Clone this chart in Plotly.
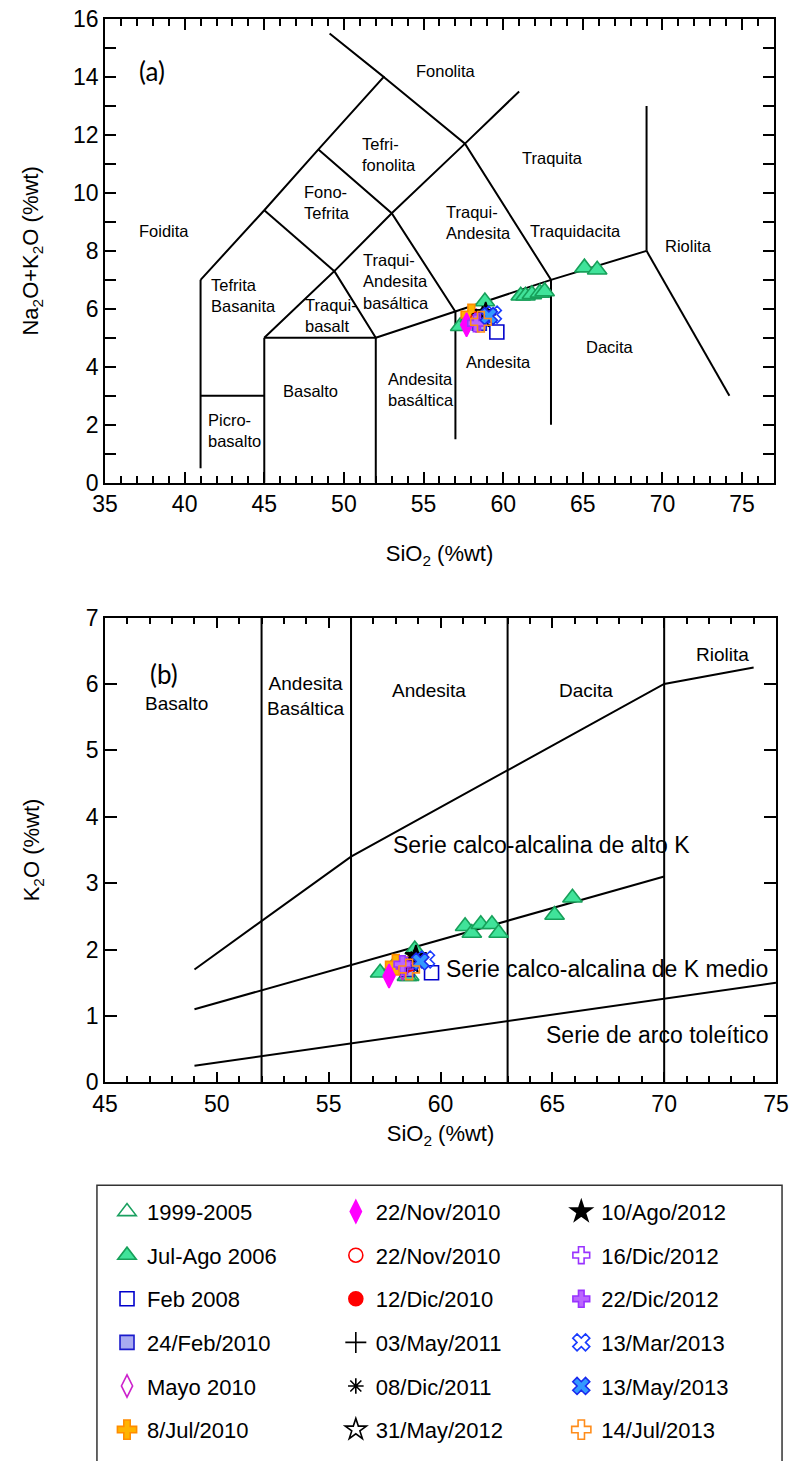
import plotly.graph_objects as go

# ---------------- data ----------------
series_names = ["1999-2005", "Jul-Ago 2006", "Feb 2008", "24/Feb/2010", "Mayo 2010", "8/Jul/2010",
                "22/Nov/2010", "22/Nov/2010", "12/Dic/2010", "03/May/2011", "08/Dic/2011", "31/May/2012",
                "10/Ago/2012", "16/Dic/2012", "22/Dic/2012", "13/Mar/2013", "13/May/2013", "14/Jul/2013"]

sio2_1999 = [58.2, 58.6]
tas_1999 = [5.55, 5.70]
k2o_1999 = [1.70, 1.60]

sio2_2006 = [57.3, 57.9, 58.5, 58.85, 61.1, 61.4, 61.8, 62.3, 62.6, 65.1, 65.9]
tas_2006 = [5.40, 5.70, 5.60, 6.25, 6.45, 6.45, 6.50, 6.55, 6.60, 7.42, 7.35]
k2o_2006 = [1.65, 1.75, 1.60, 2.00, 2.35, 2.25, 2.38, 2.38, 2.25, 2.52, 2.78]

sio2_feb2008 = [59.6]; tas_feb2008 = [5.20]; k2o_feb2008 = [1.65]
sio2_feb2010 = [58.5]; tas_feb2010 = [5.50]; k2o_feb2010 = [1.70]
sio2_may2010 = [58.3]; tas_may2010 = [5.60]; k2o_may2010 = [1.72]
sio2_jul2010 = [58.0]; tas_jul2010 = [5.80]; k2o_jul2010 = [1.77]
sio2_nov2010a = [57.7]; tas_nov2010a = [5.45]; k2o_nov2010a = [1.60]
sio2_nov2010b = [58.4]; tas_nov2010b = [5.65]; k2o_nov2010b = [1.75]
sio2_dic2010 = [58.6]; tas_dic2010 = [5.70]; k2o_dic2010 = [1.78]
sio2_may2011 = [58.9]; tas_may2011 = [5.80]; k2o_may2011 = [1.85]
sio2_dic2011 = [58.8]; tas_dic2011 = [5.75]; k2o_dic2011 = [1.88]
sio2_may2012 = [58.7]; tas_may2012 = [5.70]; k2o_may2012 = [1.80]
sio2_ago2012 = [58.9]; tas_ago2012 = [5.85]; k2o_ago2012 = [1.90]
sio2_dic2012a = [58.4]; tas_dic2012a = [5.55]; k2o_dic2012a = [1.75]
sio2_dic2012b = [58.3]; tas_dic2012b = [5.50]; k2o_dic2012b = [1.78]
sio2_mar2013 = [59.35]; tas_mar2013 = [5.80]; k2o_mar2013 = [1.85]
sio2_may2013 = [59.1]; tas_may2013 = [5.75]; k2o_may2013 = [1.82]
sio2_jul2013 = [58.6]; tas_jul2013 = [5.55]; k2o_jul2013 = [1.70]

sio2_all = [sio2_1999, sio2_2006, sio2_feb2008, sio2_feb2010, sio2_may2010, sio2_jul2010,
            sio2_nov2010a, sio2_nov2010b, sio2_dic2010, sio2_may2011, sio2_dic2011, sio2_may2012,
            sio2_ago2012, sio2_dic2012a, sio2_dic2012b, sio2_mar2013, sio2_may2013, sio2_jul2013]
tas_all = [tas_1999, tas_2006, tas_feb2008, tas_feb2010, tas_may2010, tas_jul2010,
           tas_nov2010a, tas_nov2010b, tas_dic2010, tas_may2011, tas_dic2011, tas_may2012,
           tas_ago2012, tas_dic2012a, tas_dic2012b, tas_mar2013, tas_may2013, tas_jul2013]
k2o_all = [k2o_1999, k2o_2006, k2o_feb2008, k2o_feb2010, k2o_may2010, k2o_jul2010,
           k2o_nov2010a, k2o_nov2010b, k2o_dic2010, k2o_may2011, k2o_dic2011, k2o_may2012,
           k2o_ago2012, k2o_dic2012a, k2o_dic2012b, k2o_mar2013, k2o_may2013, k2o_jul2013]

# TAS diagram boundaries (SiO2, Na2O+K2O)
tas_seg_x = [[41, 41], [41, 45], [45, 45], [45, 52], [52, 52], [52, 57, 63, 69], [57, 57], [63, 63],
             [69, 74.2], [69, 69], [41, 45, 48.4, 52.5, 49.1], [45, 49.4, 52], [49.4, 53, 57.6, 61],
             [45, 49.4], [48.4, 53, 57], [52.5, 57.6, 63]]
tas_seg_y = [[0.5, 7], [3, 3], [0, 5], [5, 5], [0, 5], [5, 5.9, 7, 8], [1.5, 5.9], [2, 7],
             [8, 3], [8, 13], [7, 9.4, 11.5, 14, 15.5], [5, 7.3, 5], [7.3, 9.3, 11.7, 13.5],
             [9.4, 7.3], [11.5, 9.3, 5.9], [14, 11.7, 7]]

# K2O vs SiO2 boundaries
k_seg_x = [[49, 56, 70, 74], [49, 70], [49, 75], [52, 52], [56, 56], [63, 63], [70, 70]]
k_seg_y = [[1.7, 3.4, 6.0, 6.25], [1.1, 3.1], [0.25, 1.5], [0, 7], [0, 7], [0, 7], [0, 7]]

tas_labels = ["(a)", "Foidita", "Tefrita<br>Basanita", "Picro-<br>basalto", "Basalto", "Fono-<br>Tefrita",
              "Tefri-<br>fonolita", "Traqui-<br>basalt", "Traqui-<br>Andesita<br>basáltica",
              "Andesita<br>basáltica", "Fonolita", "Traquita", "Traqui-<br>Andesita", "Traquidacita",
              "Riolita", "Andesita", "Dacita"]
k_labels = ["(b)", "Basalto", "Andesita<br>Basáltica", "Andesita", "Dacita", "Riolita",
            "Serie calco-alcalina de alto K", "Serie calco-alcalina de K medio", "Serie de arco toleítico"]

# ---------------- styles ----------------
FONT = "Liberation Sans, Arial, sans-serif"
symbols = ["triangle-up-open", "triangle-up", "square-open", "square", "diamond-tall-open", "cross",
           "diamond-tall", "circle-open", "circle", "cross-thin-open", "asterisk-open", "star-open",
           "star", "cross-open", "cross", "x-open", "x", "cross-open"]
fills = ["#1aa060", "#40e39a", "#0000cc", "#a8aaf0", "#cc22cc", "#ffb300",
         "#ff00ff", "#ff0000", "#ff0000", "#000000", "#000000", "#000000",
         "#000000", "#9933ff", "#bb66ff", "#1a3cff", "#3399ff", "#ff8c1a"]
lines = ["#1aa060", "#17a05a", "#0000cc", "#1a1acc", "#cc22cc", "#ff8c00",
         "#ff00ff", "#ff0000", "#ff0000", "#000000", "#000000", "#000000",
         "#000000", "#9933ff", "#9933ff", "#1a3cff", "#1a2aee", "#ff8c1a"]
sizes = [17, 17, 14, 14, 17, 17, 17, 14, 14, 15, 13, 16, 16, 14, 14, 15, 15, 17]

fig = go.Figure()


def seg_xy(sx, sy):
    X, Y = [], []
    for a, b in zip(sx, sy):
        X += list(a) + [None]
        Y += list(b) + [None]
    return X, Y


X, Y = seg_xy(tas_seg_x, tas_seg_y)
fig.add_trace(go.Scatter(x=X, y=Y, mode="lines", line=dict(color="black", width=2),
                         showlegend=False, hoverinfo="skip", xaxis="x", yaxis="y"))
X, Y = seg_xy(k_seg_x, k_seg_y)
fig.add_trace(go.Scatter(x=X, y=Y, mode="lines", line=dict(color="black", width=2),
                         showlegend=False, hoverinfo="skip", xaxis="x2", yaxis="y2"))

legend_ids = ["legend", "legend2", "legend3"]
for i, nm in enumerate(series_names):
    mk = dict(symbol=symbols[i], size=sizes[i], color=fills[i],
              line=dict(color=lines[i], width=1.6))
    fig.add_trace(go.Scatter(x=sio2_all[i], y=tas_all[i], mode="markers", name=nm, marker=mk,
                             legendgroup="g%d" % i, legend=legend_ids[i // 6], xaxis="x", yaxis="y"))
    fig.add_trace(go.Scatter(x=sio2_all[i], y=k2o_all[i], mode="markers", name=nm, marker=mk,
                             legendgroup="g%d" % i, legend=legend_ids[i // 6], showlegend=False,
                             xaxis="x2", yaxis="y2"))

# region labels panel (a): (x, y) left-anchored
tas_pos = [(37.0, 14.2), (37.0, 8.69), (41.53, 6.45), (41.34, 1.81), (46.03, 3.18), (47.35, 9.67),
           (51.0, 11.33), (47.4, 5.77), (51.07, 6.94), (52.64, 3.22), (54.4, 14.2), (61.05, 11.2),
           (56.28, 8.99), (61.57, 8.67), (70.05, 8.16), (57.53, 4.17), (65.07, 4.68)]
anns = []
for i, (t, (x, y)) in enumerate(zip(tas_labels, tas_pos)):
    anns.append(dict(x=x, y=y, xref="x", yref="y", text=t, showarrow=False, xanchor="left",
                     yanchor="middle", align="left",
                     font=dict(family="Lato, Liberation Sans" if i == 0 else FONT,
                               size=26 if i == 0 else 16.5, color="black")))

k_pos = [(46.9, 6.15, "left", 26), (46.7, 5.7, "left", 19), (54.0, 5.82, "center", 19),
         (59.5, 5.9, "center", 19), (66.5, 5.9, "center", 19), (72.6, 6.45, "center", 19),
         (64.5, 3.58, "center", 23), (74.75, 1.7, "right", 23), (74.75, 0.72, "right", 23)]
for i, (t, (x, y, xa, fs)) in enumerate(zip(k_labels, k_pos)):
    anns.append(dict(x=x, y=y, xref="x2", yref="y2", text=t, showarrow=False, xanchor=xa,
                     yanchor="middle", align="center",
                     font=dict(family="Lato, Liberation Sans" if i == 0 else FONT,
                               size=fs, color="black")))

tickfont = dict(family=FONT, size=23, color="black")
titlefont = dict(family=FONT, size=22, color="black")
common = dict(showline=True, linecolor="black", linewidth=1.5, mirror="ticks", ticks="inside",
              tickcolor="black", tickwidth=1.5, showgrid=False, zeroline=False, tickfont=tickfont)
minor_c = dict(ticks="inside", tickcolor="black", tickwidth=1.5)

fig.update_layout(
    width=792, height=1461, autosize=False,
    margin=dict(l=105, r=16, t=19, b=0),
    plot_bgcolor="white", paper_bgcolor="white",
    font=dict(family=FONT, color="black"),
    xaxis=dict(common, domain=[0, 0.997], range=[35, 77], tick0=35, dtick=5, ticklen=11,
               minor=dict(minor_c, dtick=1, ticklen=7), anchor="y",
               title=dict(text="SiO<sub>2</sub> (%wt)", font=titlefont, standoff=30)),
    yaxis=dict(common, domain=[0.6755, 1.0], range=[0, 16], tick0=0, dtick=2, ticklen=11,
               minor=dict(minor_c, dtick=1, ticklen=11), anchor="x",
               title=dict(text="Na<sub>2</sub>O+K<sub>2</sub>O (%wt)", font=titlefont, standoff=28)),
    yaxis3=dict(common, overlaying="y", anchor="x", range=[0, 16], tickmode="array",
                tickvals=[5, 10, 15], ticklen=24, showticklabels=False),
    xaxis2=dict(common, domain=[0, 1.0], range=[45, 75], tick0=45, dtick=5, ticklen=11,
                minor=dict(minor_c, dtick=1, ticklen=7), anchor="y2",
                title=dict(text="SiO<sub>2</sub> (%wt)", font=titlefont, standoff=10)),
    yaxis2=dict(common, domain=[0.2559, 0.5811], range=[0, 7], tick0=0, dtick=1, ticklen=12,
                anchor="x2",
                title=dict(text="K<sub>2</sub>O (%wt)", font=titlefont, standoff=40)),
    yaxis4=dict(common, overlaying="y2", anchor="x2", range=[0, 7], tickmode="array",
                tickvals=[5], ticklen=24, showticklabels=False),
    annotations=anns,
    shapes=[dict(type="rect", xref="paper", yref="paper", x0=-0.012, x1=1.009, y0=-0.02, y1=0.1838,
                 line=dict(color="#333333", width=1.5), fillcolor="rgba(0,0,0,0)")],
)
leg_common = dict(orientation="v", xanchor="left", yanchor="top", traceorder="grouped",
                  tracegroupgap=12, font=dict(family=FONT, size=22, color="black"),
                  bgcolor="rgba(0,0,0,0)", borderwidth=0, y=0.180)
fig.update_layout(legend=dict(leg_common, x=0.003),
                  legend2=dict(leg_common, x=0.344),
                  legend3=dict(leg_common, x=0.680))

fig.write_html("out.html")
